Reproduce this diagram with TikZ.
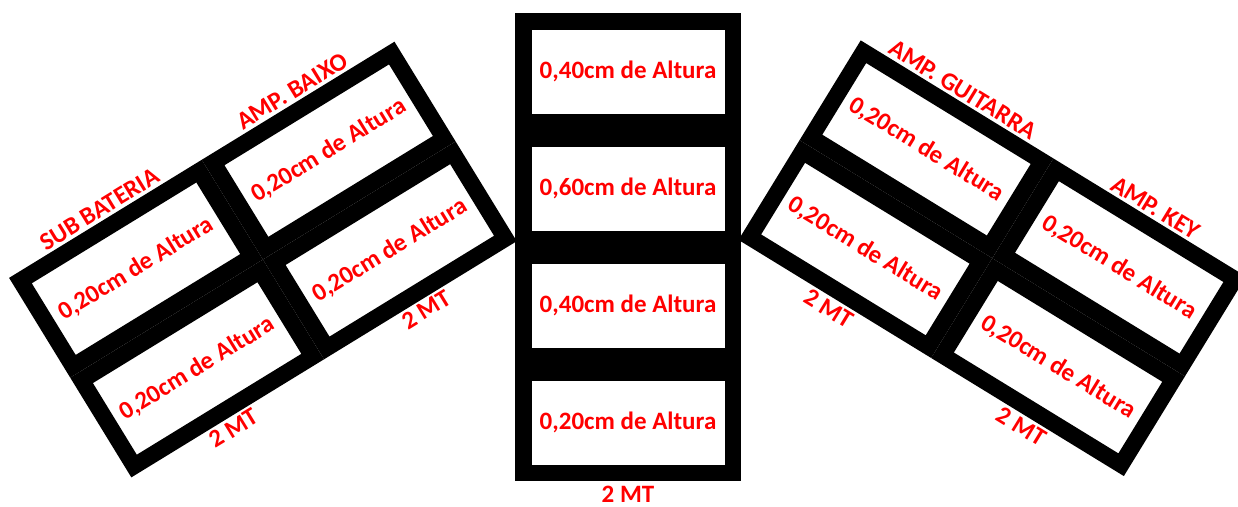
\documentclass[tikz,border=0pt]{standalone}
\usepackage{fontspec}
\setmainfont{Carlito}
\usetikzlibrary{positioning}
\tikzset{
  bloco/.style={draw=black, fill=white, line width=16.5pt, minimum width=209.5pt,
    minimum height=100.5pt, inner sep=0pt, text=red,
    font=\bfseries\fontsize{25}{30}\selectfont},
  rotulo/.style={text=red, font=\bfseries\fontsize{25}{30}\selectfont,
    inner sep=3pt, outer sep=0pt}
}
\begin{document}
\begin{tikzpicture}[x=1pt,y=-1pt]
\useasboundingbox (0,0) rectangle (1238,506);
% coluna do meio
\node[bloco] (meio1) at (628,71.5) {0,40cm de Altura};
\node[bloco, below=0pt of meio1] (meio2) {0,60cm de Altura};
\node[bloco, below=0pt of meio2] (meio3) {0,40cm de Altura};
\node[bloco, below=0pt of meio3] (meio4) {0,20cm de Altura};
\node[rotulo, below=2pt of meio4] (mtmeio) {2 MT};
% lado esquerdo
\node[bloco, rotate=31.5] (sub) at (136,268.7) {0,20cm de Altura};
\node[bloco, rotate=31.5, right=0pt of sub] (baixo) {0,20cm de Altura};
\node[bloco, rotate=31.5, below=0pt of sub] (sub2) {0,20cm de Altura};
\node[bloco, rotate=31.5, below=0pt of baixo] (baixo2) {0,20cm de Altura};
\node[rotulo, rotate=31.5, anchor=south] (tsub) at (sub.north) {SUB BATERIA};
\node[rotulo, rotate=31.5, anchor=south] (tbaixo) at (baixo.north) {AMP. BAIXO};
\node[rotulo, rotate=31.5, anchor=north] (mtesq1) at (sub2.south) {2 MT};
\node[rotulo, rotate=31.5, anchor=north] (mtesq2) at (baixo2.south) {2 MT};
% lado direito
\node[bloco, rotate=-31.5] (guit) at (926.5,149.3) {0,20cm de Altura};
\node[bloco, rotate=-31.5, right=0pt of guit] (key) {0,20cm de Altura};
\node[bloco, rotate=-31.5, below=0pt of guit] (guit2) {0,20cm de Altura};
\node[bloco, rotate=-31.5, below=0pt of key] (key2) {0,20cm de Altura};
\node[rotulo, rotate=-31.5, anchor=south] (tguit) at (guit.north) {AMP. GUITARRA};
\node[rotulo, rotate=-31.5, anchor=south] (tkey) at (key.north) {AMP. KEY};
\node[rotulo, rotate=-31.5, anchor=north] (mtdir1) at (guit2.south) {2 MT};
\node[rotulo, rotate=-31.5, anchor=north] (mtdir2) at (key2.south) {2 MT};
\end{tikzpicture}
\end{document}
